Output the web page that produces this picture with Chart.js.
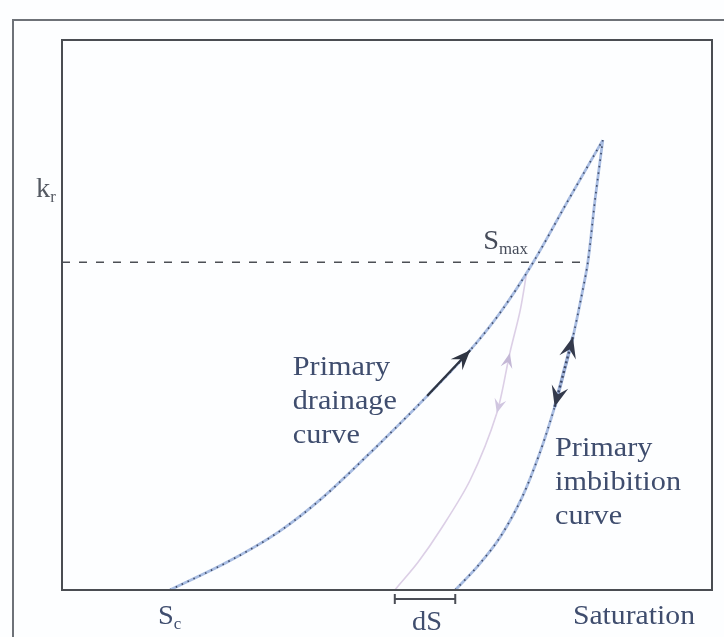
<!DOCTYPE html>
<html>
<head>
<meta charset="utf-8">
<title>Relative permeability hysteresis</title>
<script src="https://cdn.jsdelivr.net/npm/chart.js@4.4.1/dist/chart.umd.min.js"></script>
<style>
  html, body { margin: 0; padding: 0; background: #ffffff; }
  #wrap { position: relative; width: 724px; height: 637px; }
  canvas { display: block; }
</style>
</head>
<body>
<div id="wrap"><canvas id="chart" width="724" height="637"></canvas></div>
<script>
// Saturation (x) and relative permeability k_r (y), both in % of the axis range
const drainageS   = [16.6, 25.8, 33.5, 40.0, 48.5, 56.2, 62.8, 67.4, 72.5, 77.8, 83.2];
const drainageKr  = [0.0, 5.3, 10.7, 16.7, 26.2, 35.3, 43.6, 50.4, 59.6, 70.7, 81.8];
const imbibitionS  = [83.2, 82.0, 80.9, 79.8, 78.6, 77.2, 75.8, 73.5, 70.8, 67.4, 64.0, 60.5];
const imbibitionKr = [81.8, 70.9, 59.6, 52.7, 46.0, 39.6, 33.3, 24.9, 16.9, 9.6, 4.4, 0.0];
const scanningS  = [71.5, 70.5, 68.9, 66.9, 62.8, 58.2, 54.8, 51.2];
const scanningKr = [57.8, 50.9, 43.1, 32.2, 20.0, 10.9, 5.1, 0.0];
// horizontal level through S_max
const smaxLineS  = [0.0, 80.9];
const smaxLineKr = [59.6, 59.6];
// arrows: [tail, tip]
const drainArrowS   = [56.2, 62.8];
const drainArrowKr  = [35.3, 43.6];
const imbArrowS     = [75.8, 78.6];
const imbArrowKr    = [33.3, 46.0];
const scanUpS       = [68.1, 68.9];
const scanUpKr      = [39.0, 43.1];
const scanDownS     = [68.2, 66.9];
const scanDownKr    = [38.0, 32.2];

const toPts = (xs, ys) => xs.map((x, i) => ({ x: x, y: ys[i] }));

const SERIF = '"Liberation Serif", "Times New Roman", serif';
const TEXT_BLUE = '#3f4d6e';

function stretchedText(ctx, s, x, y, size, color, stretch, align) {
  ctx.save();
  ctx.font = size + 'px ' + SERIF;
  ctx.fillStyle = color;
  ctx.textBaseline = 'middle';
  const w = ctx.measureText(s).width * stretch;
  const x0 = align === 'center' ? x - w / 2 : (align === 'right' ? x - w : x);
  ctx.translate(x0, y);
  ctx.scale(stretch, 1);
  ctx.fillText(s, 0, 0);
  ctx.restore();
  return w;
}

// symbol with a lowered subscript, e.g. k_r, S_c, S_max
function subText(ctx, main, sub, x, y, color) {
  const w = stretchedText(ctx, main, x, y, 27, color, 1.05, 'left');
  stretchedText(ctx, sub, x + w, y + 8, 16, color, 1.05, 'left');
}

function arrowHead(ctx, x1, y1, x2, y2, len, wid, color) {
  const a = Math.atan2(y2 - y1, x2 - x1);
  const c = Math.cos(a), s = Math.sin(a);
  const bx = x2 - len * c, by = y2 - len * s;
  const nx = x2 - len * 0.62 * c, ny = y2 - len * 0.62 * s;
  ctx.save();
  ctx.fillStyle = color;
  ctx.beginPath();
  ctx.moveTo(x2, y2);
  ctx.lineTo(bx - wid / 2 * s, by + wid / 2 * c);
  ctx.lineTo(nx, ny);
  ctx.lineTo(bx + wid / 2 * s, by - wid / 2 * c);
  ctx.closePath();
  ctx.fill();
  ctx.restore();
}

const decor = {
  id: 'decor',
  beforeDraw(chart) {
    const ctx = chart.ctx;
    ctx.save();
    ctx.fillStyle = '#fdfeff';
    ctx.fillRect(0, 0, chart.width, chart.height);
    // outer frame
    ctx.strokeStyle = '#6e7278';
    ctx.lineWidth = 2;
    ctx.beginPath();
    ctx.moveTo(13, chart.height + 5);
    ctx.lineTo(13, 20);
    ctx.lineTo(chart.width + 5, 20);
    ctx.stroke();
    ctx.restore();
  },
  afterDatasetsDraw(chart) {
    const ctx = chart.ctx;
    const xs = chart.scales.x, ys = chart.scales.y;
    const px = v => xs.getPixelForValue(v);
    const py = v => ys.getPixelForValue(v);
    const a = chart.chartArea;

    // plot box
    ctx.save();
    ctx.strokeStyle = '#4a4d52';
    ctx.lineWidth = 2;
    ctx.strokeRect(a.left, a.top, a.right - a.left, a.bottom - a.top);
    ctx.restore();

    // drainage arrow
    ctx.save();
    ctx.strokeStyle = '#2f3542';
    ctx.lineWidth = 2.2;
    ctx.beginPath();
    ctx.moveTo(px(drainArrowS[0]), py(drainArrowKr[0]));
    ctx.lineTo(px(drainArrowS[1]), py(drainArrowKr[1]));
    ctx.stroke();
    ctx.restore();
    arrowHead(ctx, px(drainArrowS[0]), py(drainArrowKr[0]), px(drainArrowS[1]), py(drainArrowKr[1]), 20, 16, '#2f3542');

    // double arrow on imbibition curve
    ctx.save();
    ctx.strokeStyle = '#9fb2d8';
    ctx.lineWidth = 3.5;
    ctx.beginPath();
    ctx.moveTo(px(imbArrowS[0]), py(imbArrowKr[0]));
    ctx.lineTo(px(imbArrowS[1]), py(imbArrowKr[1]));
    ctx.stroke();
    ctx.strokeStyle = '#3d4866';
    ctx.lineWidth = 2.4;
    ctx.setLineDash([2, 3]);
    ctx.beginPath();
    ctx.moveTo(px(imbArrowS[0]), py(imbArrowKr[0]));
    ctx.lineTo(px(imbArrowS[1]), py(imbArrowKr[1]));
    ctx.stroke();
    ctx.restore();
    arrowHead(ctx, px(imbArrowS[0]), py(imbArrowKr[0]), px(imbArrowS[1]), py(imbArrowKr[1]), 21, 17, '#343a4c');
    arrowHead(ctx, px(imbArrowS[1]), py(imbArrowKr[1]), px(imbArrowS[0]), py(imbArrowKr[0]), 21, 17, '#343a4c');

    // faint arrows on the scanning curve
    arrowHead(ctx, px(scanUpS[0]), py(scanUpKr[0]), px(scanUpS[1]), py(scanUpKr[1]), 15, 12, '#c4b8d6');
    arrowHead(ctx, px(scanDownS[0]), py(scanDownKr[0]), px(scanDownS[1]), py(scanDownKr[1]), 14, 12, '#d0c6e0');

    // symbols: k_r on the vertical axis, S_max on the dashed level, S_c at the start of drainage
    subText(ctx, 'k', 'r', 36, py(72.7), '#555a63');
    subText(ctx, 'S', 'max', px(64.8), py(63.3), '#454b59');
    subText(ctx, 'S', 'c', px(drainageS[0]) - 12, a.bottom + 27, TEXT_BLUE);

    // curve names
    const lx = px(35.5);
    stretchedText(ctx, 'Primary', lx, 368, 27, TEXT_BLUE, 1.12, 'left');
    stretchedText(ctx, 'drainage', lx, 402, 27, TEXT_BLUE, 1.12, 'left');
    stretchedText(ctx, 'curve', lx, 436, 27, TEXT_BLUE, 1.12, 'left');

    stretchedText(ctx, 'Primary', 555, 449, 27, TEXT_BLUE, 1.12, 'left');
    stretchedText(ctx, 'imbibition', 555, 483, 27, TEXT_BLUE, 1.12, 'left');
    stretchedText(ctx, 'curve', 555, 517, 27, TEXT_BLUE, 1.12, 'left');

    stretchedText(ctx, 'Saturation', a.right - 17, a.bottom + 27, 27, TEXT_BLUE, 1.1, 'right');

    // dS interval below the axis
    const x1 = px(scanningS[scanningS.length - 1]);
    const x2 = px(imbibitionS[imbibitionS.length - 1]);
    const yb = a.bottom + 9;
    ctx.save();
    ctx.strokeStyle = '#4a4d56';
    ctx.lineWidth = 2;
    ctx.beginPath();
    ctx.moveTo(x1, yb); ctx.lineTo(x2, yb);
    ctx.moveTo(x1, yb - 5); ctx.lineTo(x1, yb + 5);
    ctx.moveTo(x2, yb - 5); ctx.lineTo(x2, yb + 5);
    ctx.stroke();
    ctx.restore();
    stretchedText(ctx, 'dS', (x1 + x2) / 2 + 2, a.bottom + 33, 27, TEXT_BLUE, 1.05, 'center');
  }
};

const base = { showLine: true, pointRadius: 0, fill: false, tension: 0.3 };
const smooth = { cubicInterpolationMode: 'monotone' };

// Chart.js paints dataset 0 last, so the dark dot overlays come first
new Chart(document.getElementById('chart'), {
  type: 'scatter',
  data: {
    datasets: [
      Object.assign({}, base, smooth, { label: 'Primary drainage dots', data: toPts(drainageS, drainageKr), borderColor: '#3f4b68', borderWidth: 1.7, borderDash: [1.5, 5] }),
      Object.assign({}, base, { label: 'Primary imbibition dots', data: toPts(imbibitionS, imbibitionKr), borderColor: '#3f4b68', borderWidth: 1.7, borderDash: [1.5, 5] }),
      Object.assign({}, base, smooth, { label: 'Primary drainage curve', data: toPts(drainageS, drainageKr), borderColor: '#a9bde2', borderWidth: 2.8 }),
      Object.assign({}, base, { label: 'Primary imbibition curve', data: toPts(imbibitionS, imbibitionKr), borderColor: '#a9bde2', borderWidth: 2.8 }),
      Object.assign({}, base, { label: 'Scanning curve', data: toPts(scanningS, scanningKr), borderColor: '#dccfe6', borderWidth: 1.6 }),
      Object.assign({}, base, { label: 'S_max level', data: toPts(smaxLineS, smaxLineKr), borderColor: '#4c4f55', borderWidth: 1.5, borderDash: [8, 9], tension: 0 })
    ]
  },
  options: {
    responsive: false,
    animation: false,
    devicePixelRatio: 1,
    layout: { padding: { left: 62, top: 40, right: 12, bottom: 47 } },
    plugins: { legend: { display: false }, tooltip: { enabled: false } },
    scales: {
      x: { type: 'linear', min: 0, max: 100, display: false },
      y: { type: 'linear', min: 0, max: 100, display: false }
    }
  },
  plugins: [decor]
});
</script>
</body>
</html>
